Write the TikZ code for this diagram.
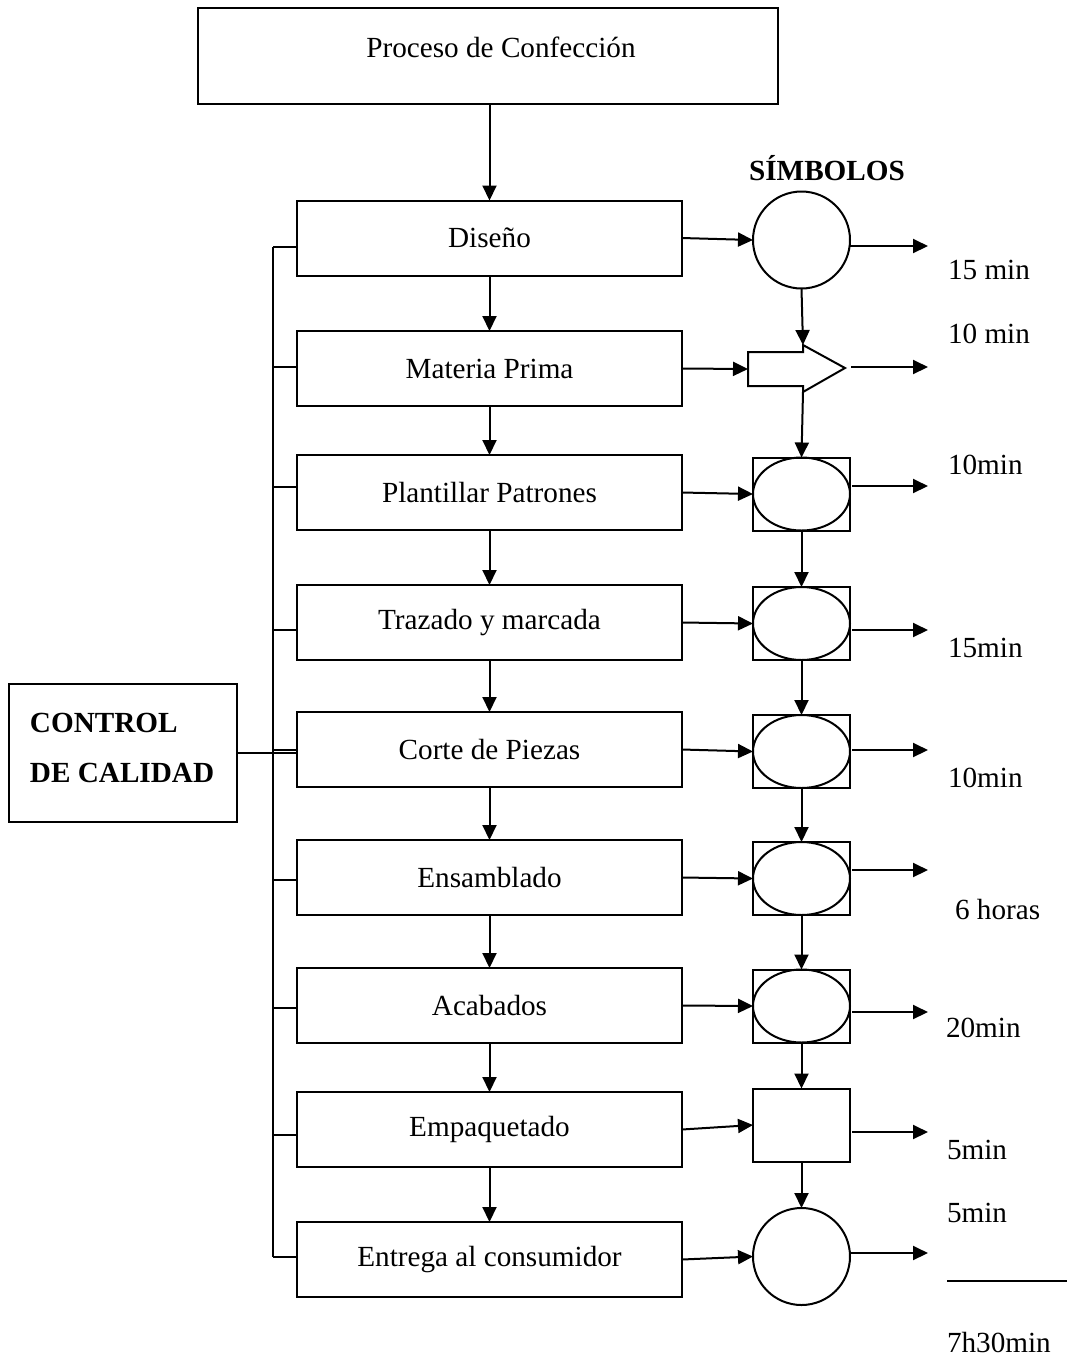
\documentclass[tikz,border=0pt]{standalone}
\usepackage{fontspec}
\setmainfont{Liberation Serif}
\usetikzlibrary{arrows.meta,shapes.geometric}
\begin{document}
\begin{tikzpicture}[x=0.5pt,y=-0.5pt,
  every node/.style={font=\fontsize{14.6}{17}\selectfont, inner sep=0pt, outer sep=0pt},
  ln/.style={line width=1pt},
  arr/.style={line width=1pt,-{Triangle[length=7.5pt,width=7pt]}},
  proc/.style={draw,line width=1pt,minimum width=192.5pt,minimum height=37.5pt},
  circ/.style={draw,line width=1pt,circle,minimum size=48.5pt},
  boxsym/.style={draw,line width=1pt,minimum width=48.5pt,minimum height=36.5pt},
  ovalin/.style={draw,line width=1pt,ellipse,minimum width=48.5pt,minimum height=36.5pt},
  lab/.style={anchor=west}]
\useasboundingbox (0,0) rectangle (1068,1357);

% top box
\node[draw,line width=1pt,minimum width=290pt,minimum height=48pt] (top) at (488,56) {};
\node (toptext) at (501,47) {Proceso de Confección};

\node[font=\fontsize{14.6}{17}\selectfont\bfseries] (simb) at (827,168) {SÍMBOLOS};

% process boxes
\node[proc] (p1) at (489.5,238) {Diseño};
\node[proc] (p2) at (489.5,368.5) {Materia Prima};
\node[proc] (p3) at (489.5,492.5) {Plantillar Patrones};
\node[proc] (p4) at (489.5,622.5) {Trazado y marcada};
\node[proc] (p5) at (489.5,749.5) {Corte de Piezas};
\node[proc] (p6) at (489.5,877.5) {Ensamblado};
\node[proc] (p7) at (489.5,1005.5) {Acabados};
\node[proc] (p8) at (489.5,1129.5) {Empaquetado};
\node[proc] (p9) at (489.5,1259.5) {Entrega al consumidor};

\draw[arr] (top.south -| p1.north) -- (p1.north);
\foreach \a/\b in {p1/p2,p2/p3,p3/p4,p4/p5,p5/p6,p6/p7,p7/p8,p8/p9}
  \draw[arr] (\a.south) -- (\b.north);

% control de calidad
\node[draw,line width=1pt,minimum width=114pt,minimum height=69pt] (cc) at (123,753) {};
\node[lab,font=\fontsize{14.6}{17}\selectfont\bfseries] (cc1) at (30,723) {CONTROL};
\node[lab,font=\fontsize{14.6}{17}\selectfont\bfseries] (cc2) at (30,773) {DE CALIDAD};

% bracket
\coordinate (bt) at (273,247);
\coordinate (bb) at (273,1257);
\draw[ln] (bt) -- (bb);
\foreach \n/\y in {p1/247,p2/367,p3/487,p4/630,p5/750,p6/880,p7/1008,p8/1135,p9/1257}
  \draw[ln] (273,\y) -- (\n.west |- 0,\y);
\draw[ln] (cc.east) -- (p5.west |- cc.east);

% symbols
\node[circ] (s1) at (801.5,240) {};
\coordinate (s2in) at (748,369);
\coordinate (s2top) at (803,345);
\coordinate (s2bot) at (803,392);
\coordinate (s2tip) at (845,368);
\draw[ln] (748,352) -- (803,352) -- (s2top) -- (s2tip) -- (s2bot) -- (803,386) -- (748,386) -- cycle;
\node[boxsym] (s3) at (801.5,494) {};
\node[ovalin] (e3) at (801.5,494) {};
\node[boxsym] (s4) at (801.5,623.5) {};
\node[ovalin] (e4) at (801.5,623.5) {};
\node[boxsym] (s5) at (801.5,751.5) {};
\node[ovalin] (e5) at (801.5,751.5) {};
\node[boxsym] (s6) at (801.5,878.5) {};
\node[ovalin] (e6) at (801.5,878.5) {};
\node[boxsym] (s7) at (801.5,1006) {};
\node[ovalin] (e7) at (801.5,1006) {};
\node[boxsym] (s8) at (801.5,1125) {};
\node[circ] (s9) at (801.5,1256.5) {};

% in arrows
\draw[arr] (p1.east) -- (s1.west);
\draw[arr] (p2.east) -- (s2in);
\foreach \a/\b in {p3/s3,p4/s4,p5/s5,p6/s6,p7/s7,p8/s8,p9/s9}
  \draw[arr] (\a.east) -- (\b.west);

% vertical symbol flow
\draw[arr] (s1.south) -- (s2top);
\draw[arr] (s2bot) -- (s3.north);
\foreach \a/\b in {s3/s4,s4/s5,s5/s6,s6/s7,s7/s8,s8/s9}
  \draw[arr] (\a.south) -- (\b.north);

% out arrows
\coordinate (o1) at (928,246);
\coordinate (o2) at (928,367);
\coordinate (o3) at (928,486);
\coordinate (o4) at (928,630);
\coordinate (o5) at (928,750);
\coordinate (o6) at (928,870);
\coordinate (o7) at (928,1012);
\coordinate (o8) at (928,1132);
\coordinate (o9) at (928,1253);
\draw[arr] (s1.east |- o1) -- (o1);
\draw[arr] (851,367) -- (o2);
\foreach \s/\o in {s3/o3,s4/o4,s5/o5,s6/o6,s7/o7,s8/o8}
  \draw[arr] ([xshift=1pt]\s.east |- \o) -- (\o);
\draw[arr] (s9.east |- o9) -- (o9);

% time labels
\node[lab] (t1) at (948,270) {15 min};
\node[lab] (t2) at (948,334) {10 min};
\node[lab] (t3) at (948,465) {10min};
\node[lab] (t4) at (948,648) {15min};
\node[lab] (t5) at (948,778) {10min};
\node[lab] (t6) at (955,909) {6 horas};
\node[lab] (t7) at (946,1028) {20min};
\node[lab] (t8) at (947,1150) {5min};
\node[lab] (t9) at (947,1213) {5min};
\coordinate (sumA) at (947,1281);
\coordinate (sumB) at (1067,1281);
\draw[line width=0.8pt] (sumA) -- (sumB);
\node[lab] (tot) at (947,1342) {7h30min};
\end{tikzpicture}
\end{document}
